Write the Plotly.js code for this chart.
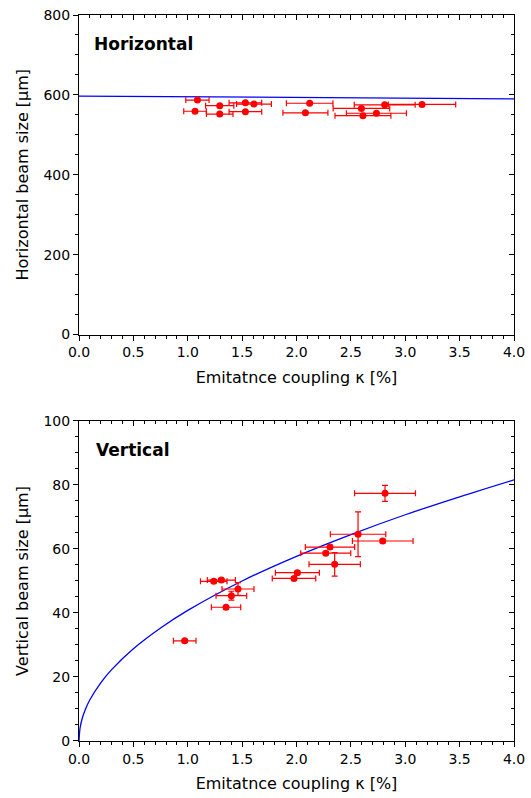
<!DOCTYPE html>
<html>
<head>
<meta charset="utf-8">
<script src="https://cdn.plot.ly/plotly-3.0.1.min.js"></script>
<style>html,body{margin:0;padding:0;background:#fff;}#chart{width:531px;height:798px;}</style>
</head>
<body>
<div id="chart"></div>
<script>
// ---- Horizontal panel data ----
const hKappa    = [1.089, 1.294, 1.530, 1.609, 2.121, 2.811, 3.154, 2.597, 1.067, 1.294, 1.530, 2.082, 2.735, 2.611];
const hSize     = [587, 573, 580, 577, 579, 575, 576, 566, 559, 552, 558, 555, 554, 548];
const hKappaErr = [0.107, 0.13, 0.15, 0.16, 0.214, 0.28, 0.31, 0.26, 0.104, 0.122, 0.15, 0.207, 0.276, 0.257];
const hFitK     = [0, 1, 2, 3, 4];
const hFitSize  = [597, 595.5, 594, 592, 590];

// ---- Vertical panel data ----
const vKappa    = [0.972, 1.239, 1.309, 1.462, 1.401, 1.352, 1.977, 2.008, 2.351, 2.269, 2.308, 2.566, 2.793, 2.814];
const vSize     = [31.3, 49.9, 50.3, 47.5, 45.4, 41.8, 50.8, 52.6, 55.2, 58.7, 60.6, 64.6, 62.5, 77.4];
const vKappaErr = [0.104, 0.122, 0.129, 0.147, 0.141, 0.135, 0.2, 0.202, 0.236, 0.23, 0.227, 0.255, 0.279, 0.28];
const vSizeErr  = [0.5, 0.5, 0.5, 2.0, 1.4, 0.5, 0.5, 0.5, 3.7, 0.5, 0.5, 7.0, 0.5, 2.5];
const vFitK     = [0, 0.01, 0.03, 0.06, 0.1, 0.2, 0.3, 0.5, 0.75, 1.0, 1.5, 2.0, 2.5, 3.0, 3.5, 4.0];
const vFitSize  = [0, 4.1, 7.1, 10.0, 12.9, 18.2, 22.3, 28.8, 35.3, 40.8, 50.0, 57.7, 64.5, 70.7, 76.3, 81.6];

// ---- labels ----
const xTitle = 'Emitatnce coupling κ [%]';
const hYTitle = 'Horizontal beam size [µm]';
const vYTitle = 'Vertical beam size [µm]';
const hLabel = 'Horizontal';
const vLabel = 'Vertical';

const FONT = 'DejaVu Sans, Liberation Sans, Arial, sans-serif';
const RED = '#ff0000';
const BLUE = '#0000ff';

const errStyle = {type: 'data', color: RED, thickness: 1.2, width: 3};

const traces = [
  {x: hFitK, y: hFitSize, mode: 'lines', line: {color: BLUE, width: 1.3}, xaxis: 'x', yaxis: 'y', hoverinfo: 'skip'},
  {x: hKappa, y: hSize, mode: 'markers', marker: {color: RED, size: 7},
   error_x: Object.assign({array: hKappaErr}, errStyle), xaxis: 'x', yaxis: 'y'},
  {x: vFitK, y: vFitSize, mode: 'lines', line: {color: BLUE, width: 1.3, shape: 'spline'}, xaxis: 'x2', yaxis: 'y2', hoverinfo: 'skip'},
  {x: vKappa, y: vSize, mode: 'markers', marker: {color: RED, size: 7},
   error_x: Object.assign({array: vKappaErr}, errStyle),
   error_y: Object.assign({array: vSizeErr}, errStyle), xaxis: 'x2', yaxis: 'y2'},
  // invisible helpers so mirrored inside-tick axes get drawn
  {x: [0], y: [0], mode: 'markers', marker: {opacity: 0}, xaxis: 'x3', yaxis: 'y', showlegend: false, hoverinfo: 'skip'},
  {x: [0], y: [0], mode: 'markers', marker: {opacity: 0}, xaxis: 'x', yaxis: 'y3', showlegend: false, hoverinfo: 'skip'},
  {x: [0], y: [0], mode: 'markers', marker: {opacity: 0}, xaxis: 'x4', yaxis: 'y2', showlegend: false, hoverinfo: 'skip'},
  {x: [0], y: [0], mode: 'markers', marker: {opacity: 0}, xaxis: 'x2', yaxis: 'y4', showlegend: false, hoverinfo: 'skip'}
];

const tickFont = {family: FONT, size: 14, color: '#000'};
const titleFont = {family: FONT, size: 16, color: '#000'};

function xMain(anchor) {
  return {
    anchor: anchor, range: [0, 4], dtick: 0.5, tick0: 0, tickformat: '.1f',
    ticks: 'outside', ticklen: 5, tickwidth: 1, tickcolor: '#000',
    minor: {dtick: 0.1, ticks: 'outside', ticklen: 3, tickcolor: '#000'},
    showline: true, linecolor: '#000', linewidth: 1, showgrid: false, zeroline: false,
    tickfont: tickFont, title: {text: xTitle, font: titleFont, standoff: 12},
    fixedrange: true
  };
}
function yMain(anchor, domain, range, dtick, minorD, title) {
  return {
    anchor: anchor, domain: domain, range: range, dtick: dtick, tick0: 0,
    ticks: 'outside', ticklen: 5, tickwidth: 1, tickcolor: '#000',
    minor: {dtick: minorD, ticks: 'outside', ticklen: 3, tickcolor: '#000'},
    showline: true, linecolor: '#000', linewidth: 1, showgrid: false, zeroline: false,
    tickfont: tickFont, title: {text: title, font: titleFont, standoff: 10},
    fixedrange: true
  };
}
function xMirror(over, anchor) {
  return {
    overlaying: over, anchor: anchor, side: 'top', range: [0, 4], dtick: 0.5, tick0: 0,
    ticks: 'inside', ticklen: 5, tickwidth: 1, tickcolor: '#000',
    minor: {dtick: 0.1, ticks: 'inside', ticklen: 3, tickcolor: '#000'},
    showline: true, linecolor: '#000', linewidth: 1, showgrid: false, zeroline: false,
    showticklabels: false, fixedrange: true
  };
}
function yMirror(over, anchor, range, dtick, minorD) {
  return {
    overlaying: over, anchor: anchor, side: 'right', range: range, dtick: dtick, tick0: 0,
    ticks: 'inside', ticklen: 5, tickwidth: 1, tickcolor: '#000',
    minor: {dtick: minorD, ticks: 'inside', ticklen: 3, tickcolor: '#000'},
    showline: true, linecolor: '#000', linewidth: 1, showgrid: false, zeroline: false,
    showticklabels: false, fixedrange: true
  };
}

const topDom = [0.5599, 1];
const botDom = [0, 0.4408];

const layout = {
  width: 531, height: 798,
  margin: {l: 79, r: 17, t: 15, b: 57},
  paper_bgcolor: '#fff', plot_bgcolor: '#fff',
  showlegend: false,
  font: {family: FONT, color: '#000'},
  xaxis: xMain('y'),
  yaxis: yMain('x', topDom, [0, 800], 200, 50, hYTitle),
  xaxis2: xMain('y2'),
  yaxis2: yMain('x2', botDom, [0, 100], 20, 5, vYTitle),
  xaxis3: xMirror('x', 'y'),
  yaxis3: Object.assign(yMirror('y', 'x', [0, 800], 200, 50), {domain: topDom}),
  xaxis4: xMirror('x2', 'y2'),
  yaxis4: Object.assign(yMirror('y2', 'x2', [0, 100], 20, 5), {domain: botDom}),
  annotations: [
    {text: '<b>' + hLabel + '</b>', xref: 'paper', yref: 'paper', x: 0.030, y: 0.960,
     xanchor: 'left', yanchor: 'middle', showarrow: false, font: {family: FONT, size: 17, color: '#000'}},
    {text: '<b>' + vLabel + '</b>', xref: 'paper', yref: 'paper', x: 0.034, y: 0.4008,
     xanchor: 'left', yanchor: 'middle', showarrow: false, font: {family: FONT, size: 17, color: '#000'}}
  ]
};

Plotly.newPlot('chart', traces, layout, {displayModeBar: false, staticPlot: true});
</script>
</body>
</html>
